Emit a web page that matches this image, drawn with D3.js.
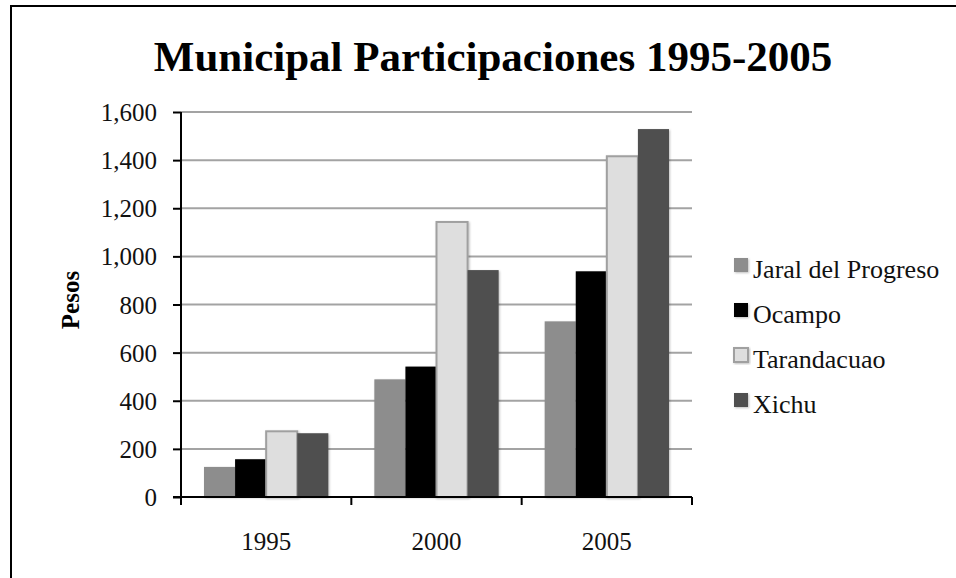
<!DOCTYPE html>
<html>
<head>
<meta charset="utf-8">
<script src="https://cdn.jsdelivr.net/npm/d3@7"></script>
<style>
  html, body { margin: 0; padding: 0; background: #fff; }
  svg { display: block; font-family: "Liberation Serif", "Times New Roman", serif; }
</style>
</head>
<body>
<svg id="chart" width="956" height="578"></svg>
<script>
const years = ['1995', '2000', '2005'];
const series = ['Jaral del Progreso', 'Ocampo', 'Tarandacuao', 'Xichu'];
const jaral = [125, 489, 730];
const ocampo = [157, 542, 938];
const tarandacuao = [273, 1143, 1416];
const xichu = [265, 943, 1529];
const yTicks = [0, 200, 400, 600, 800, 1000, 1200, 1400, 1600];
const colors = ['#8d8d8d', '#000000', '#dedede', '#4f4f4f'];

const values = [jaral, ocampo, tarandacuao, xichu];

const svg = d3.select('#chart');

// outer frame (only top and left edges show in the source)
svg.append('path')
  .attr('d', 'M 11,578 L 11,6 L 956,6')
  .attr('fill', 'none')
  .attr('stroke', '#000')
  .attr('stroke-width', 2);

// soft shadow for the bars
const defs = svg.append('defs');
const f = defs.append('filter').attr('id', 'shadow')
  .attr('x', '-20%').attr('y', '-20%').attr('width', '140%').attr('height', '140%');
f.append('feDropShadow')
  .attr('dx', 1).attr('dy', 1).attr('stdDeviation', 1.2)
  .attr('flood-color', '#000').attr('flood-opacity', 0.25);

const plotLeft = 181, plotRight = 692, plotTop = 112, plotBottom = 497;

const x0 = d3.scaleBand().domain(years).range([plotLeft, plotRight]).paddingInner(0).paddingOuter(0);
const x1 = d3.scaleBand().domain(series).range([0, x0.bandwidth()]).paddingInner(0).paddingOuter(0.74);
const y = d3.scaleLinear().domain([0, 1600]).range([plotBottom, plotTop]);

// gridlines
svg.append('g')
  .selectAll('line')
  .data(yTicks.filter(d => d > 0))
  .join('line')
  .attr('x1', plotLeft).attr('x2', plotRight)
  .attr('y1', d => y(d)).attr('y2', d => y(d))
  .attr('stroke', '#a3a3a3')
  .attr('stroke-width', 2);

// bars
const groups = svg.append('g')
  .selectAll('g')
  .data(years)
  .join('g')
  .attr('transform', d => `translate(${x0(d)},0)`);

groups.selectAll('rect')
  .data((yr, i) => series.map((s, j) => ({ s, j, v: values[j][i] })))
  .join('rect')
  .attr('x', d => x1(d.s))
  .attr('y', d => y(d.v))
  .attr('width', x1.bandwidth())
  .attr('height', d => y(0) - y(d.v))
  .attr('fill', d => colors[d.j])
  .attr('stroke', d => d.j === 2 ? '#a0a0a0' : 'none')
  .attr('stroke-width', 2)
  .attr('filter', 'url(#shadow)');

// y axis
const yAxis = svg.append('g')
  .attr('transform', `translate(${plotLeft},0)`)
  .call(d3.axisLeft(y).tickValues(yTicks).tickFormat(d3.format(',')).tickSize(8).tickPadding(16));
yAxis.select('.domain').attr('stroke', '#000').attr('stroke-width', 2)
  .attr('d', `M0,${plotTop}V${plotBottom}`);
yAxis.selectAll('.tick line').attr('stroke', '#000').attr('stroke-width', 2);
yAxis.selectAll('.tick text')
  .attr('font-size', 25)
  .attr('font-family', '"Liberation Serif", "Times New Roman", serif')
  .attr('fill', '#111')
  .attr('dy', '0.34em');

// x axis
const xAxis = svg.append('g')
  .attr('transform', `translate(0,${plotBottom})`)
  .call(d3.axisBottom(x0).tickSize(0).tickPadding(35));
xAxis.select('.domain').attr('stroke', '#000').attr('stroke-width', 2)
  .attr('d', `M${plotLeft - 8},0H${plotRight}`);
xAxis.selectAll('.tick text')
  .attr('font-size', 25)
  .attr('font-family', '"Liberation Serif", "Times New Roman", serif')
  .attr('fill', '#111');

// boundary ticks between categories
const bounds = years.map(d => x0(d)).concat([x0(years[years.length - 1]) + x0.bandwidth()]);
xAxis.append('g')
  .selectAll('line')
  .data(bounds)
  .join('line')
  .attr('x1', d => d).attr('x2', d => d)
  .attr('y1', 0).attr('y2', 8)
  .attr('stroke', '#000')
  .attr('stroke-width', 2);

// title
svg.append('text')
  .attr('x', 493)
  .attr('y', 71)
  .attr('text-anchor', 'middle')
  .attr('font-size', 43)
  .attr('font-weight', 'bold')
  .attr('fill', '#000')
  .text('Municipal Participaciones 1995-2005');

// y label
svg.append('text')
  .attr('transform', 'translate(79,300) rotate(-90)')
  .attr('text-anchor', 'middle')
  .attr('font-size', 25)
  .attr('font-weight', 'bold')
  .attr('fill', '#000')
  .text('Pesos');

// legend
const legend = svg.append('g')
  .attr('transform', 'translate(734,0)')
  .selectAll('g')
  .data(series)
  .join('g')
  .attr('transform', (d, i) => `translate(0,${278 + i * 45})`);

legend.append('rect')
  .attr('x', 0).attr('y', -20)
  .attr('width', 14).attr('height', 14)
  .attr('fill', (d, i) => colors[i])
  .attr('stroke', (d, i) => i === 2 ? '#a0a0a0' : 'none')
  .attr('stroke-width', 2)
  .attr('filter', 'url(#shadow)');

legend.append('text')
  .attr('x', 19)
  .attr('y', 0)
  .attr('font-size', 26)
  .attr('fill', '#111')
  .text(d => d);
</script>
</body>
</html>
